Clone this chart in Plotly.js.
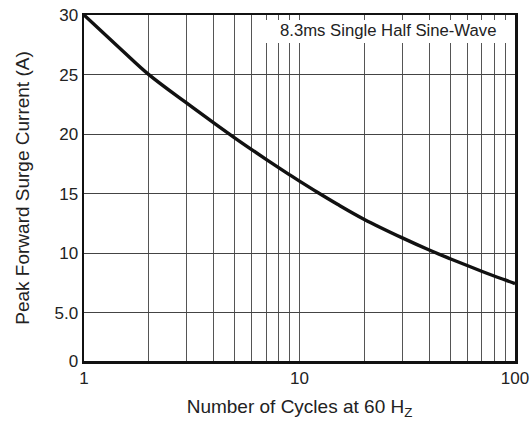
<!DOCTYPE html>
<html>
<head>
<meta charset="utf-8">
<script src="https://cdn.plot.ly/plotly-3.0.1.min.js"></script>
<style>html,body{margin:0;padding:0;background:#fff;}#chart{width:532px;height:425px;}</style>
</head>
<body>
<div id="chart"></div>
<script>
// Data
const cycles = [1, 1.5, 2, 3, 4, 5, 6, 7, 8, 9, 10, 12, 15, 20, 30, 40, 50, 60, 70, 80, 90, 100];
const surgeCurrent = [30, 27.05, 25, 22.6, 20.95, 19.7, 18.71, 17.89, 17.19, 16.59, 16.06, 15.17, 14.12, 12.85, 11.3, 10.28, 9.55, 8.98, 8.5, 8.1, 7.77, 7.46];

// Axis ticks / labels
const xTickVals = [1, 10, 100];
const xTickText = ['1', '10', '100'];
const xGridVals = [2, 3, 4, 5, 6, 7, 8, 9, 20, 30, 40, 50, 60, 70, 80, 90];
// the reference's bottom band (0 to 5.0) is compressed; the "0" line sits at this axis floor
const yAxisFloor = 0.97;
const yTickVals = [yAxisFloor, 5, 10, 15, 20, 25, 30];
const yTickText = ['0', '5.0', '10', '15', '20', '25', '30'];

const noteText = '8.3ms Single Half Sine-Wave';
const xTitle = 'Number of Cycles at 60 H<sub>Z</sub>';
const yTitle = 'Peak Forward Surge Current (A)';

const FONT = 'Liberation Sans, Arial, Helvetica, sans-serif';

const trace = {
  x: cycles, y: surgeCurrent, type: 'scatter', mode: 'lines',
  line: {color: '#111', width: 3.4, shape: 'spline', smoothing: 1},
  hoverinfo: 'skip'
};

const layout = {
  width: 532, height: 425,
  margin: {l: 84, r: 17, t: 15, b: 64, pad: 0},
  paper_bgcolor: '#fff', plot_bgcolor: '#fff',
  showlegend: false,
  font: {family: FONT, color: '#222', size: 17},
  xaxis: {
    type: 'log', range: [0, 2],
    tickmode: 'array', tickvals: xTickVals, ticktext: xTickText,
    ticks: '', showgrid: true, gridcolor: '#555', gridwidth: 1,
    minor: {tickmode: 'array', tickvals: xGridVals, ticks: '', showgrid: true, gridcolor: '#555', gridwidth: 1},
    showline: true, linecolor: '#111', linewidth: 2.5, mirror: true,
    zeroline: false, tickfont: {size: 17, family: FONT, color: '#222'},
    title: {text: xTitle, font: {size: 19, family: FONT, color: '#222'}, standoff: 13}
  },
  yaxis: {
    range: [yAxisFloor, 30],
    tickmode: 'array', tickvals: yTickVals, ticktext: yTickText,
    ticks: '', showgrid: true, gridcolor: '#444', gridwidth: 1,
    showline: true, linecolor: '#111', linewidth: 2.5, mirror: true,
    zeroline: false, tickfont: {size: 17, family: FONT, color: '#222'},
    title: {text: yTitle, font: {size: 19, family: FONT, color: '#222'}, standoff: 20}
  },
  shapes: [{
    type: 'rect', xref: 'paper', yref: 'paper',
    x0: 0.413, x1: 0.988, y0: 0.919, y1: 0.9855,
    fillcolor: '#fff', line: {width: 0}, layer: 'above'
  }],
  annotations: [{
    text: noteText, xref: 'paper', yref: 'paper', x: 0.705, y: 0.954,
    xanchor: 'center', yanchor: 'middle', showarrow: false,
    font: {size: 16.7, family: FONT, color: '#222'}
  }]
};

Plotly.newPlot('chart', [trace], layout, {staticPlot: true, displayModeBar: false});
</script>
</body>
</html>
